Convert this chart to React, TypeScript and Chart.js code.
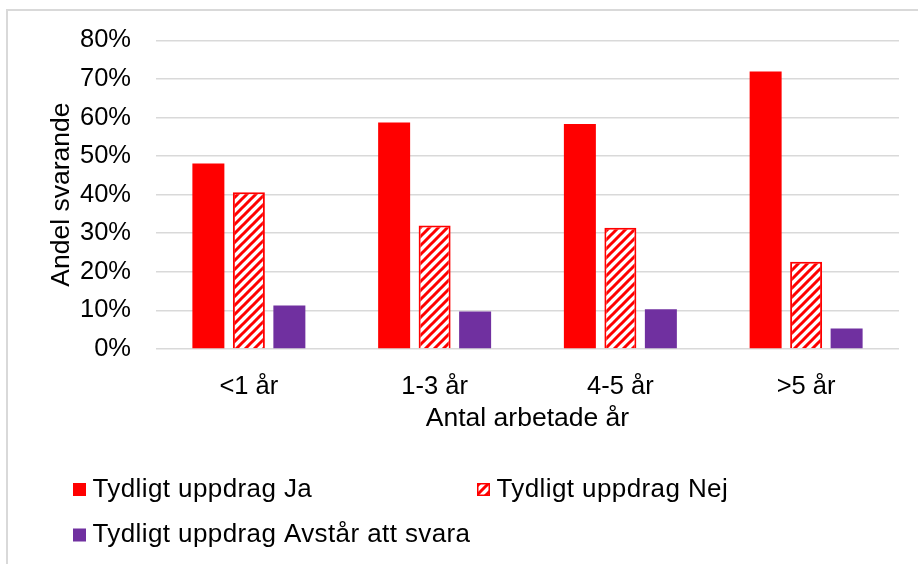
import React, { useEffect, useRef } from 'react';
import { Chart, registerables } from 'chart.js';

Chart.register(...registerables);

const categories = ['<1 år', '1-3 år', '4-5 år', '>5 år'];
const seriesNames = ['Tydligt uppdrag Ja', 'Tydligt uppdrag Nej', 'Tydligt uppdrag Avstår att svara'];
const jaValues = [48.1, 58.7, 58.3, 71.9];
const nejValues = [40.6, 32.0, 31.4, 22.6];
const avstarValues = [11.3, 9.7, 10.3, 5.3];
const yMin = 0;
const yMax = 80;
const yStep = 10;
const yAxisTitle = 'Andel svarande';
const xAxisTitle = 'Antal arbetade år';

const FONT = '"Liberation Sans", Arial, sans-serif';
const RED = '#ff0000';
const PURPLE = '#7030a0';
const GRID = '#d9d9d9';

function makeHatch(target: CanvasRenderingContext2D): CanvasPattern {
  const n = 9;
  const c = document.createElement('canvas');
  c.width = n;
  c.height = n;
  const g = c.getContext('2d')!;
  g.fillStyle = '#ffffff';
  g.fillRect(0, 0, n, n);
  g.strokeStyle = RED;
  g.lineWidth = 3;
  g.beginPath();
  // lines x + y = k*n for k = 0, 1, 2
  for (let k = 0; k <= 2; k++) {
    const s = k * n;
    g.moveTo(s - n - 3, n + 3);
    g.lineTo(s + 3, -3);
    g.moveTo(-3, s + 3);
    g.lineTo(s + 3, -3);
  }
  g.stroke();
  return target.createPattern(c, 'repeat')!;
}

const frameAndLegend = {
  id: 'frameAndLegend',
  beforeDraw(chart: any) {
    const ctx = chart.ctx as CanvasRenderingContext2D;
    ctx.save();
    ctx.fillStyle = '#ffffff';
    ctx.fillRect(0, 0, chart.width, chart.height);
    ctx.strokeStyle = GRID;
    ctx.lineWidth = 2;
    ctx.strokeRect(7, 10, 2000, 2000);
    ctx.restore();
  },
  afterDraw(chart: any) {
    const ctx = chart.ctx as CanvasRenderingContext2D;
    const slots = [
      { x: 73, y: 489.5 },
      { x: 477, y: 489.5 },
      { x: 73, y: 535 },
    ];
    chart.data.datasets.forEach((ds: any, i: number) => {
      const p = slots[i];
      if (!p) return;
      ctx.save();
      ctx.fillStyle = ds.backgroundColor;
      ctx.fillRect(p.x, p.y - 6.5, 13, 13);
      if (ds.borderWidth) {
        ctx.strokeStyle = ds.borderColor;
        ctx.lineWidth = 1.5;
        ctx.strokeRect(p.x + 0.75, p.y - 5.75, 11.5, 11.5);
      }
      ctx.fillStyle = '#000000';
      ctx.font = `26px ${FONT}`;
      (ctx as any).letterSpacing = '0.4px';
      ctx.textBaseline = 'middle';
      ctx.textAlign = 'left';
      ctx.fillText(ds.label, p.x + 19.5, p.y);
      ctx.restore();
    });
  },
};

export default function App() {
  const ref = useRef<HTMLCanvasElement>(null);

  useEffect(() => {
    document.body.style.margin = '0';
    const canvas = ref.current!;
    const ctx = canvas.getContext('2d')!;
    const hatch = makeHatch(ctx);

    const chart = new Chart(canvas, {
      type: 'bar',
      data: {
        labels: categories,
        datasets: [
          { label: seriesNames[0], data: jaValues, backgroundColor: RED, borderWidth: 0 },
          { label: seriesNames[1], data: nejValues, backgroundColor: hatch as any, borderColor: RED, borderWidth: 2 },
          { label: seriesNames[2], data: avstarValues, backgroundColor: PURPLE, borderWidth: 0 },
        ],
      },
      options: {
        animation: false,
        responsive: false,
        devicePixelRatio: 1,
        categoryPercentage: 0.654,
        barPercentage: 0.79,
        layout: { padding: { left: 0, right: 19, top: 40, bottom: 115 } },
        plugins: {
          legend: { display: false },
          tooltip: { enabled: false },
        },
        scales: {
          x: {
            grid: { display: false },
            border: { display: false },
            ticks: { color: '#000', font: { family: FONT, size: 25.5 }, padding: 15 },
            title: {
              display: true,
              text: xAxisTitle,
              color: '#000',
              font: { family: FONT, size: 26.5 },
              padding: { top: 0, bottom: 14 },
            },
            afterFit: (s: any) => { s.height = 100; },
          },
          y: {
            min: yMin,
            max: yMax,
            grid: { color: GRID, lineWidth: 1.5, drawTicks: false },
            border: { display: false },
            ticks: {
              stepSize: yStep,
              color: '#000',
              font: { family: FONT, size: 25.5 },
              padding: 25,
              callback: (v: any) => `${v}%`,
            },
            title: {
              display: true,
              text: yAxisTitle,
              color: '#000',
              font: { family: FONT, size: 26.5 },
              padding: { top: 46, bottom: 0 },
            },
            afterFit: (s: any) => { s.width = 156; },
          },
        },
      },
      plugins: [frameAndLegend],
    });
    return () => chart.destroy();
  }, []);

  return (
    <div style={{ width: 918, height: 564 }}>
      <canvas ref={ref} width={918} height={564} style={{ display: 'block', width: 918, height: 564 }} />
    </div>
  );
}
